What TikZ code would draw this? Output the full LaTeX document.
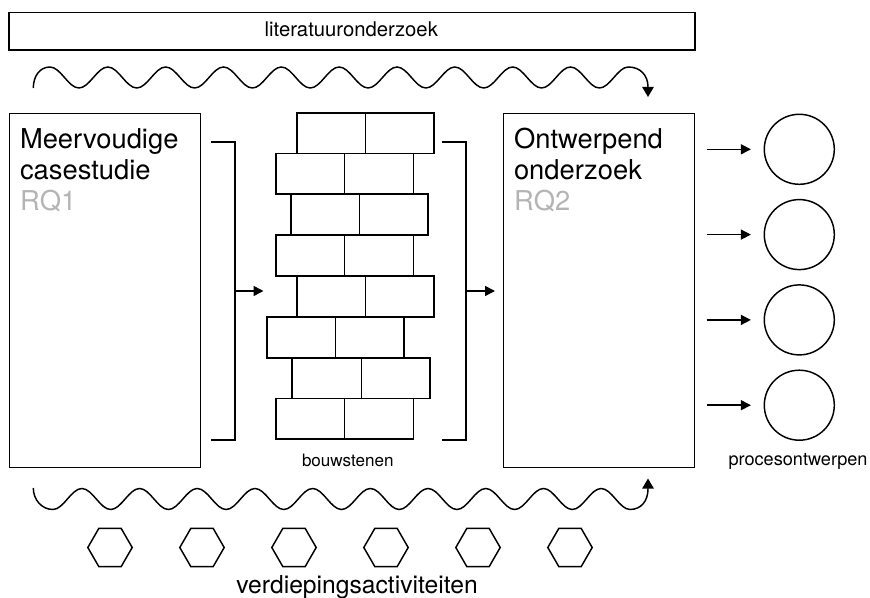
\documentclass[tikz,border=0pt]{standalone}
\usepackage{fontspec}
\setmainfont{TeX Gyre Heros}
\usetikzlibrary{arrows.meta,shapes.geometric}
\definecolor{rqgray}{HTML}{B4B4B4}
\begin{document}
\begin{tikzpicture}[x=0.75pt,y=-0.75pt,
  line width=1.1pt,
  box/.style={draw, line width=1.1pt, inner sep=0pt, anchor=north west},
  brickrow/.style={draw, line width=1.3pt},
  joint/.style={line width=0.7pt},
  arr/.style={line width=1.1pt, -{Triangle[length=7.5pt,width=7.5pt]}},
  wave/.style={line width=1.1pt, -{Triangle[length=7.5pt,width=8.5pt]}},
  bracket/.style={line width=1.1pt},
  title/.style={anchor=base west, inner sep=0pt, font=\fontsize{20.5pt}{24pt}\selectfont},
  rq/.style={title, text=rqgray},
  label/.style={anchor=base, inner sep=0pt},
  outcome/.style={draw, circle, line width=1.1pt, minimum size=52.5pt, inner sep=0pt},
  hex/.style={draw, regular polygon, regular polygon sides=6, line width=1.1pt, minimum size=33.3pt, inner sep=0pt}
]
\useasboundingbox (0,0) rectangle (870,598);

% top bar
\node[box, minimum width=514.5pt, minimum height=28.1pt] (bar) at (8.3,12) {};
\node[label, font=\fontsize{15.2pt}{18pt}\selectfont] (lit) at (351.3,36.7) {literatuuronderzoek};

% main boxes
\node[box, minimum width=143.25pt, minimum height=265.5pt] (box1) at (9,113) {};
\node[box, minimum width=143.25pt, minimum height=265.5pt] (box2) at (503,113) {};
\node[title] (t1a) at (19.3,148.3) {Meervoudige};
\node[title] (t1b) at (19.3,179.5) {casestudie};
\node[rq] (t1c) at (19.3,210.5) {RQ1};
\node[title] (t2a) at (513.3,148.3) {Ontwerpend};
\node[title] (t2b) at (513.3,179.5) {onderzoek};
\node[rq] (t2c) at (513.3,210.5) {RQ2};

% brick wall
\foreach \i/\l in {0/296.7,1/276,2/290.7,3/276,4/296.7,5/266.7,6/292.3,7/276} {
  \pgfmathsetmacro\top{112.7+40.83*\i}
  \pgfmathsetmacro\bot{112.7+40.83*(\i+1)}
  \pgfmathsetmacro\mid{\l+68.75}
  \draw[brickrow] (\l,\top) rectangle ({\l+137.5},\bot);
  \draw[joint] (\mid,\top) -- (\mid,\bot);
}
\node[label, font=\fontsize{12.8pt}{15pt}\selectfont] (bouw) at (347.8,466) {bouwstenen};

% brackets and arrows
\coordinate (b1t) at (211,142);
\coordinate (b1b) at (211,440);
\coordinate (b1m) at (235,291);
\coordinate (w1) at (263.5,291);
\draw[bracket] (b1t) -| (b1m) |- (b1b);
\draw[arr] (b1m) -- (w1);
\coordinate (b2t) at (441.7,142);
\coordinate (b2b) at (441.7,440);
\coordinate (b2m) at (466,291);
\draw[bracket] (b2t) -| (b2m) |- (b2b);
\draw[arr] (b2m) -- (box2.west |- b2m) [shorten >=6pt];

% outcomes
\foreach \k in {1,2,3,4} {
  \pgfmathsetmacro\cy{149.3+85.3*(\k-1)}
  \node[outcome] (c\k) at (799.3,\cy) {};
  \coordinate (a\k) at (706.7,\cy);
  \draw[arr, shorten >=9.5pt] (a\k) -- (c\k.west);
}
\node[label, font=\fontsize{13.6pt}{16pt}\selectfont] (proc) at (798,465) {procesontwerpen};

% top wave
\coordinate (tw0) at (33.3,88);
\coordinate (tw1) at (648,97);
\draw[wave] (tw0) .. controls (33.3,76) and (40,67) .. (50,67)
  \foreach \k in {0,...,9} {
    cos ({50+57.83*\k+14.46},77.5) sin ({50+57.83*\k+28.92},88)
    cos ({50+57.83*\k+43.37},77.5) sin ({50+57.83*(\k+1)},67)
  }
  .. controls (640,67) and (648,75) .. (648,87) -- (tw1);

% bottom wave
\coordinate (bw0) at (33.3,488);
\coordinate (bw1) at (648,478.5);
\draw[wave] (bw0) .. controls (33.3,500) and (42,509.5) .. (53,509.5)
  \foreach \k in {0,...,9} {
    cos ({53+57.7*\k+14.43},499) sin ({53+57.7*\k+28.85},488.5)
    cos ({53+57.7*\k+43.28},499) sin ({53+57.7*(\k+1)},509.5)
  }
  .. controls (641,509.5) and (648,501) .. (648,489) -- (bw1);

% hexagons
\foreach \k in {1,...,6} {
  \node[hex] (h\k) at ({110+92*(\k-1)},547.5) {};
}
\node[label, font=\fontsize{18.5pt}{22pt}\selectfont] (verd) at (357,593) {verdiepingsactiviteiten};
\end{tikzpicture}
\end{document}
